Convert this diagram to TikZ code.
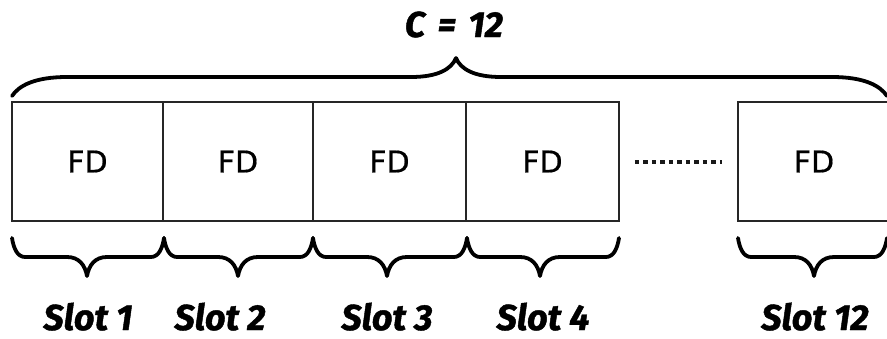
\documentclass[tikz,border=0pt]{standalone}
\usepackage{fontspec}
\newfontfamily\fdfont{DejaVu Sans}[FakeBold=0.6]
\newfontfamily\slotfont{Fira Sans}[BoldItalicFeatures={FakeBold=1.2}]
% x0 x1 xm y0 s w t
\newcommand\mybrace[7]{%
 \pgfmathsetmacro\bya{#4+(#5)*19}\pgfmathsetmacro\byb{#4+(#5)*38}%
 \pgfmathsetmacro\byc{#4+(#5)*10}\pgfmathsetmacro\byd{#4+(#5)*27}%
 \draw[bracestyle] (#1,#4) .. controls ({#1+0.12*#6},\byc) and ({#1+0.4*#6},\bya) .. ({#1+#6},\bya)
   -- ({#3-#7},\bya) .. controls ({#3-0.4*#7},\bya) and ({#3-0.1*#7},\byd) .. (#3,\byb)
   .. controls ({#3+0.1*#7},\byd) and ({#3+0.4*#7},\bya) .. ({#3+#7},\bya)
   -- ({#2-#6},\bya) .. controls ({#2-0.4*#6},\bya) and ({#2-0.12*#6},\byc) .. (#2,#4);}
\begin{document}
\begin{tikzpicture}[x=1pt,y=-1pt,
  fdbox/.style={draw=black!85, line width=1.8pt, minimum height=119pt, inner sep=0pt,
     font=\fdfont\fontsize{30}{30}\selectfont, text=black},
  bracestyle/.style={draw=black, line width=3.8pt, line cap=round, line join=round},
  slotlabel/.style={font=\slotfont\bfseries\itshape\fontsize{36}{36}\selectfont, text=black, inner sep=0pt, anchor=base},
  dotline/.style={draw=black!90, line width=4pt, dash pattern=on 4.5pt off 4pt}]
\useasboundingbox (0,0) rectangle (887,338);
\fill[white] (0,0) rectangle (887,338);
\node[fdbox, minimum width=151pt] (b1) at (87.5,161.5) {FD};
\node[fdbox, minimum width=150pt] (b2) at (238,161.5) {FD};
\node[fdbox, minimum width=153pt] (b3) at (389.5,161.5) {FD};
\node[fdbox, minimum width=153pt] (b4) at (542.5,161.5) {FD};
\node[fdbox, minimum width=152pt, text width=152pt, align=center] (b5) at (814,161.5) {FD};
\draw[dotline, shorten <=15pt, shorten >=15pt] (b4) -- (b5);
% top brace
\mybrace{12}{887}{456}{96}{-1}{55}{45}
\node[slotlabel] (c) at (454,37) {C\hspace{0.12em} =\hspace{0.12em} 12};
% bottom braces
\mybrace{12}{164}{87}{238}{1}{13}{20}
\mybrace{164}{313}{238}{238}{1}{13}{20}
\mybrace{313}{467}{387}{238}{1}{13}{20}
\mybrace{467}{619}{540}{238}{1}{13}{20}
\mybrace{738}{887}{814}{238}{1}{13}{20}
\node[slotlabel] (s1) at (88,330) {Slot 1};
\node[slotlabel] (s2) at (220,330) {Slot 2};
\node[slotlabel] (s3) at (387,330) {Slot 3};
\node[slotlabel] (s4) at (543,330) {Slot 4};
\node[slotlabel] (s12) at (815,330) {Slot 12};
\end{tikzpicture}
\end{document}
